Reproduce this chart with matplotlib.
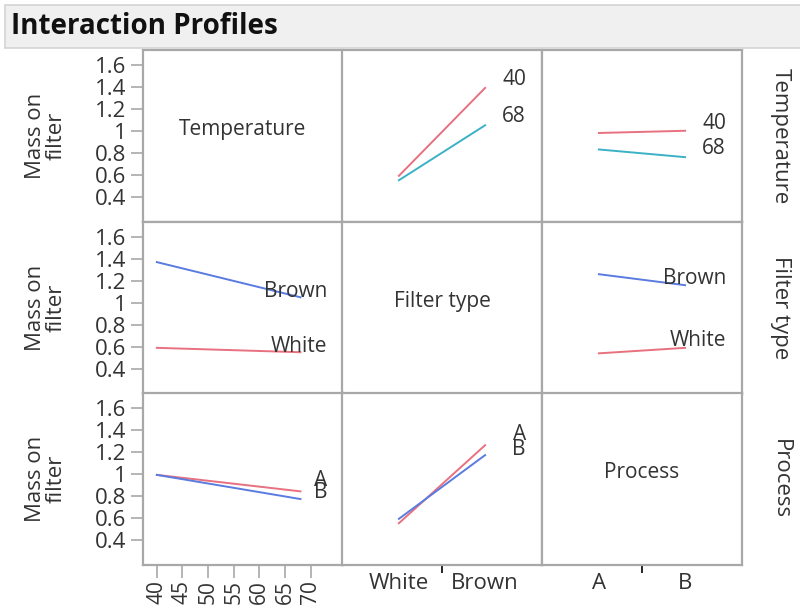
import matplotlib
matplotlib.use("Agg")
from matplotlib import pyplot as plt
from matplotlib.patches import Rectangle
import matplotlib.transforms as mtransforms

plt.rcParams['font.family'] = ['Open Sans', 'DejaVu Sans']

# factors and levels
factors = ['Temperature', 'Filter type', 'Process']
temp_levels = [40, 68]
temp_ticks = [40, 45, 50, 55, 60, 65, 70]
filter_levels = ['White', 'Brown']
process_levels = ['A', 'B']
y_ticks = [0.4, 0.6, 0.8, 1, 1.2, 1.4, 1.6]
y_ticklabels = ['0.4', '0.6', '0.8', '1', '1.2', '1.4', '1.6']

# mean mass on filter, one list per traced level
temp40_by_filter = [0.59, 1.39]
temp68_by_filter = [0.55, 1.05]
temp40_by_process = [0.98, 1.00]
temp68_by_process = [0.83, 0.76]
white_by_temp = [0.59, 0.55]
brown_by_temp = [1.37, 1.05]
white_by_process = [0.54, 0.59]
brown_by_process = [1.26, 1.16]
procA_by_temp = [0.99, 0.84]
procB_by_temp = [0.99, 0.77]
procA_by_filter = [0.55, 1.26]
procB_by_filter = [0.59, 1.17]

RED = '#E8707F'
CYAN = '#3BB1C6'
BLUE = '#5A7BE0'
GRID = '#A8A8A8'
TXT = '#333333'

# (row, col) -> list of (label, values, color, text offset); x axis = factor of col
cells = {
    (0, 1): [('40', temp40_by_filter, RED, 6), ('68', temp68_by_filter, CYAN, 6)],
    (0, 2): [('40', temp40_by_process, RED, 5), ('68', temp68_by_process, CYAN, 6)],
    (1, 0): [('Brown', brown_by_temp, BLUE, 4), ('White', white_by_temp, RED, 4)],
    (1, 2): [('Brown', brown_by_process, BLUE, 5), ('White', white_by_process, RED, 5)],
    (2, 0): [('A', procA_by_temp, RED, 8), ('B', procB_by_temp, BLUE, 5)],
    (2, 1): [('A', procA_by_filter, RED, 8), ('B', procB_by_filter, BLUE, 4)],
}

W, H = 800, 609
fig = plt.figure(figsize=(W / 100, H / 100), dpi=100)

# title band
fig.patches.append(Rectangle((5 / W, 1 - 48 / H), 1, 43 / H, transform=fig.transFigure,
                             facecolor='#F0F0F0', edgecolor='#D4D4D4', lw=1.2))
fig.text(11 / W, 1 - 27 / H, 'Interaction Profiles', fontsize=20, fontweight='bold',
         color='#111111', ha='left', va='center')

col_x = [143, 342, 542]
col_w = 200
row_y = [50, 222, 393]
row_h = 172
FS = 15

for r in range(3):
    for c in range(3):
        left = col_x[c] / W
        bottom = 1 - (row_y[r] + row_h) / H
        ax = fig.add_axes([left, bottom, col_w / W, row_h / H])
        ax.set_ylim(0.17, 1.735)
        if c == 0:
            ax.set_xlim(37.3, 76.3)
        else:
            ax.set_xlim(-0.66, 1.66)
        for sp in ax.spines.values():
            sp.set_color(GRID)
            sp.set_linewidth(1.6)
        ax.tick_params(colors=GRID, labelcolor=TXT, labelsize=FS)

        if r == c:
            ax.text(0.5, 0.54, factors[r], transform=ax.transAxes, ha='center', va='center',
                    fontsize=FS, color=TXT)

        for label, vals, color, off in cells.get((r, c), []):
            xs = temp_levels if c == 0 else [0, 1]
            ax.plot(xs, vals, color=color, lw=1.4)
            trans = mtransforms.blended_transform_factory(ax.transAxes, ax.transData)
            ax.annotate(label, xy=(0.92, vals[-1]), xycoords=trans, xytext=(0, off),
                        textcoords='offset points', ha='right', va='center',
                        fontsize=FS, color=TXT)

        # y axis only on first column
        if c == 0:
            ax.set_yticks(y_ticks)
            ax.set_yticklabels(y_ticklabels)
            ax.tick_params(axis='y', length=9, width=1.2, pad=3, labelsize=16)
        else:
            ax.set_yticks([])

        # x axis only on bottom row
        if r == 2:
            if c == 0:
                ax.set_xticks(temp_ticks)
                ax.set_xticklabels([str(t) for t in temp_ticks], rotation=90)
                ax.tick_params(axis='x', length=9, width=1.2, pad=2)
            else:
                lv = filter_levels if c == 1 else process_levels
                ax.set_xticks([0, 1])
                ax.set_xticklabels(lv)
                ax.set_xticks([0.5], minor=True)
                ax.tick_params(axis='x', which='major', length=0, pad=6, labelsize=16)
                ax.tick_params(axis='x', which='minor', length=6, width=1.2)
        else:
            ax.set_xticks([])

    # row labels
    yc = 1 - (row_y[r] + row_h / 2) / H
    fig.text(46 / W, yc, 'Mass on\nfilter', rotation=90, ha='center', va='center',
             fontsize=16, color=TXT, linespacing=1.0)
    fig.text(780 / W, yc, factors[r], rotation=270, ha='center', va='center',
             fontsize=16, color=TXT)

fig.savefig('out.png', dpi=100)
